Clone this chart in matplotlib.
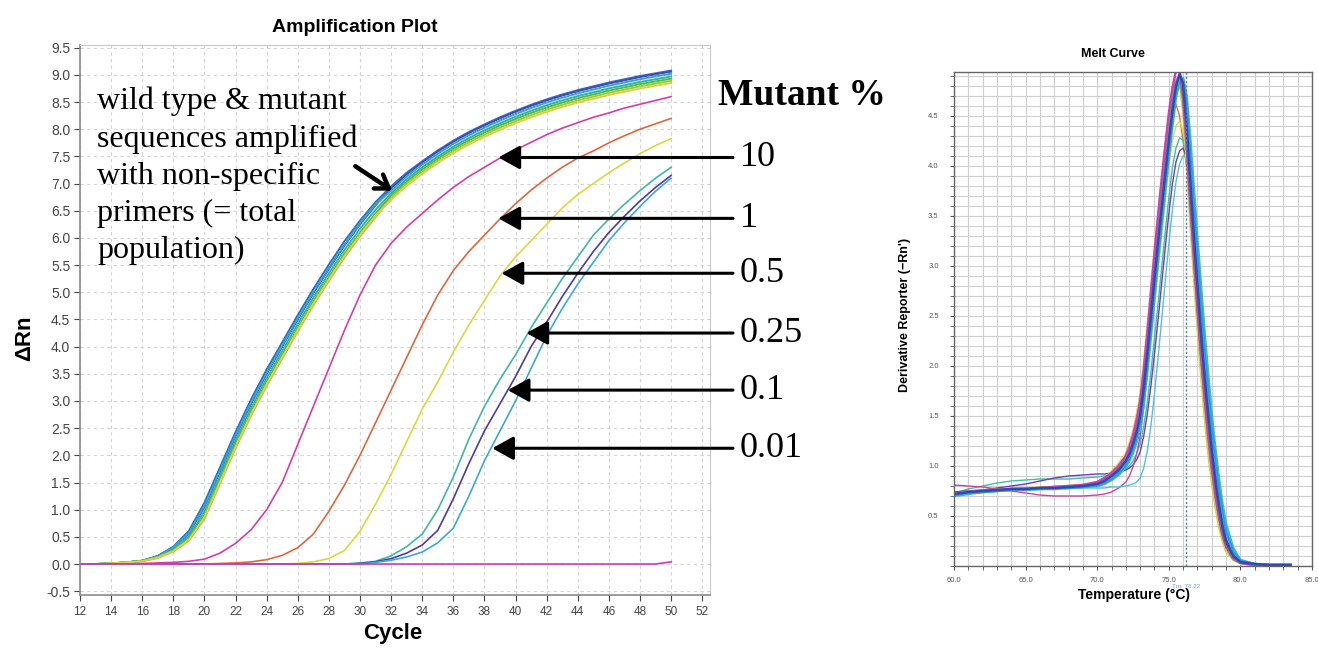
import matplotlib
matplotlib.use("Agg")
import matplotlib.pyplot as plt

# ---------------- amplification plot data ----------------
cycles = list(range(12, 51))

# total population (non-specific primers), several replicate wells
total_wells = {
    "#2f6fc0": [0.00, 0.00, 0.01, 0.03, 0.06, 0.15, 0.32, 0.61, 1.13, 1.78, 2.43, 3.03, 3.58, 4.08, 4.58, 5.06, 5.51, 5.94, 6.32, 6.66,
                6.95, 7.20, 7.41, 7.61, 7.79, 7.95, 8.09, 8.22, 8.34, 8.45, 8.55, 8.64, 8.72, 8.79, 8.86, 8.92, 8.98, 9.03, 9.08],
    "#4b48b0": [0.00, 0.00, 0.01, 0.03, 0.06, 0.14, 0.30, 0.56, 1.05, 1.70, 2.35, 2.95, 3.50, 4.00, 4.50, 4.98, 5.43, 5.86, 6.25, 6.60,
                6.91, 7.17, 7.39, 7.59, 7.77, 7.93, 8.07, 8.20, 8.32, 8.43, 8.53, 8.62, 8.70, 8.77, 8.84, 8.90, 8.96, 9.01, 9.06],
    "#35a3dc": [0.00, 0.00, 0.01, 0.03, 0.06, 0.14, 0.31, 0.57, 1.07, 1.72, 2.37, 2.97, 3.52, 4.02, 4.52, 5.00, 5.45, 5.88, 6.27, 6.62,
                6.87, 7.13, 7.35, 7.55, 7.73, 7.89, 8.03, 8.16, 8.28, 8.39, 8.49, 8.58, 8.66, 8.73, 8.80, 8.86, 8.92, 8.97, 9.02],
    "#2cb5a6": [0.00, 0.00, 0.01, 0.03, 0.06, 0.13, 0.28, 0.51, 0.97, 1.62, 2.27, 2.87, 3.42, 3.92, 4.42, 4.90, 5.35, 5.78, 6.17, 6.52,
                6.82, 7.08, 7.30, 7.50, 7.68, 7.84, 7.98, 8.11, 8.23, 8.34, 8.44, 8.53, 8.61, 8.68, 8.75, 8.81, 8.87, 8.92, 8.97],
    "#55b947": [0.00, 0.00, 0.01, 0.03, 0.06, 0.12, 0.25, 0.47, 0.90, 1.55, 2.20, 2.80, 3.35, 3.85, 4.35, 4.83, 5.28, 5.71, 6.10, 6.45,
                6.78, 7.04, 7.26, 7.46, 7.64, 7.80, 7.94, 8.07, 8.19, 8.30, 8.40, 8.49, 8.57, 8.64, 8.71, 8.77, 8.83, 8.88, 8.93],
    "#9bcb3c": [0.00, 0.00, 0.01, 0.03, 0.05, 0.11, 0.23, 0.43, 0.83, 1.48, 2.13, 2.73, 3.28, 3.78, 4.28, 4.76, 5.21, 5.64, 6.03, 6.38,
                6.74, 7.00, 7.22, 7.42, 7.60, 7.76, 7.90, 8.03, 8.15, 8.26, 8.36, 8.45, 8.53, 8.60, 8.67, 8.73, 8.79, 8.84, 8.89],
    "#d8d43a": [0.00, 0.00, 0.01, 0.03, 0.05, 0.12, 0.24, 0.45, 0.86, 1.51, 2.16, 2.76, 3.31, 3.81, 4.31, 4.79, 5.24, 5.67, 6.06, 6.41,
                6.70, 6.96, 7.18, 7.38, 7.56, 7.72, 7.86, 7.99, 8.11, 8.22, 8.32, 8.41, 8.49, 8.56, 8.63, 8.69, 8.75, 8.80, 8.85],
}

# mutant-specific wells
mut_10 = [0.00, 0.00, 0.00, 0.00, 0.01, 0.02, 0.03, 0.05, 0.09, 0.20, 0.38, 0.63, 1.00, 1.50, 2.20, 2.90, 3.60, 4.30, 4.95, 5.50,
          5.90, 6.20, 6.45, 6.70, 6.93, 7.13, 7.30, 7.47, 7.62, 7.76, 7.90, 8.02, 8.12, 8.22, 8.30, 8.39, 8.46, 8.53, 8.60]
mut_1 = [0.00, 0.00, 0.00, 0.00, 0.00, 0.00, 0.00, 0.00, 0.00, 0.01, 0.02, 0.04, 0.08, 0.16, 0.30, 0.55, 0.97, 1.45, 2.00, 2.60,
         3.20, 3.80, 4.40, 4.95, 5.40, 5.75, 6.05, 6.35, 6.63, 6.88, 7.10, 7.30, 7.47, 7.60, 7.75, 7.88, 8.00, 8.10, 8.20]
mut_05 = [0.00, 0.00, 0.00, 0.00, 0.00, 0.00, 0.00, 0.00, 0.00, 0.00, 0.00, 0.00, 0.00, 0.00, 0.01, 0.04, 0.10, 0.25, 0.60, 1.10,
          1.65, 2.25, 2.85, 3.35, 3.90, 4.40, 4.85, 5.30, 5.65, 5.95, 6.25, 6.55, 6.80, 7.00, 7.20, 7.38, 7.55, 7.70, 7.83]
mut_025 = [0.00, 0.00, 0.00, 0.00, 0.00, 0.00, 0.00, 0.00, 0.00, 0.00, 0.00, 0.00, 0.00, 0.00, 0.00, 0.00, 0.00, 0.00, 0.02, 0.05,
           0.15, 0.32, 0.55, 1.00, 1.60, 2.30, 2.90, 3.40, 3.85, 4.35, 4.80, 5.25, 5.65, 6.05, 6.35, 6.62, 6.87, 7.10, 7.30]
mut_01 = [0.00, 0.00, 0.00, 0.00, 0.00, 0.00, 0.00, 0.00, 0.00, 0.00, 0.00, 0.00, 0.00, 0.00, 0.00, 0.00, 0.00, 0.00, 0.01, 0.04,
          0.10, 0.20, 0.35, 0.62, 1.20, 1.85, 2.45, 2.95, 3.45, 4.00, 4.45, 4.92, 5.35, 5.75, 6.10, 6.40, 6.68, 6.93, 7.15]
mut_001 = [0.00, 0.00, 0.00, 0.00, 0.00, 0.00, 0.00, 0.00, 0.00, 0.00, 0.00, 0.00, 0.00, 0.00, 0.00, 0.00, 0.00, 0.00, 0.00, 0.03,
           0.07, 0.13, 0.22, 0.39, 0.66, 1.25, 1.90, 2.45, 3.00, 3.60, 4.20, 4.70, 5.15, 5.55, 5.95, 6.28, 6.58, 6.86, 7.10]
ntc = [0.00] * 38 + [0.04]

mutant_series = [mut_10, mut_1, mut_05, mut_025, mut_01, mut_001]
mutant_colors = ["#d63ca8", "#e0663a", "#d9d93a", "#3fb8a0", "#4b3aa8", "#3aa8dc"]
mutant_labels = ["10", "1", "0.5", "0.25", "0.1", "0.01"]
# where each arrow touches its curve (cycle, dRn)
arrow_tips = [(38.9, 7.48), (38.9, 6.36), (39.1, 5.35), (40.7, 4.25), (39.5, 3.20), (38.5, 2.13)]

# ---------------- melt curve data ----------------
melt_temp = [60, 61, 62, 63, 64, 65, 66, 67, 68, 69, 70, 70.5, 71, 71.5, 72, 72.25, 72.5, 72.75, 73, 73.25, 73.5, 73.75,
             74, 74.25, 74.5, 74.75, 75, 75.25, 75.5, 75.75, 76, 76.25, 76.5, 76.75, 77, 77.25, 77.5, 77.75, 78, 78.25,
             78.5, 78.75, 79, 79.5, 80, 81, 82, 83.5]

melt_thin = {
    "#e0703a": [.74, .75, .76, .77, .77, .78, .78, .79, .80, .81, .84, .87, .92, .98, 1.07, 1.15, 1.25, 1.38, 1.55, 1.82, 2.15, 2.52,
                2.90, 3.28, 3.66, 4.02, 4.32, 4.55, 4.62, 4.50, 4.25, 3.98, 3.58, 3.12, 2.66, 2.20, 1.78, 1.40, 1.06, .78,
                .55, .36, .22, .09, .04, .02, .01, .01],
    "#e3d84a": [.73, .75, .76, .77, .78, .78, .79, .79, .80, .81, .83, .86, .90, .95, 1.02, 1.08, 1.16, 1.26, 1.40, 1.62, 1.92, 2.25,
                2.60, 2.95, 3.30, 3.65, 3.98, 4.25, 4.40, 4.45, 4.35, 4.12, 3.78, 3.34, 2.86, 2.38, 1.94, 1.54, 1.18, .88,
                .63, .42, .26, .10, .04, .02, .01, .01],
    "#3fbf9f": [.73, .77, .80, .83, .85, .86, .87, .87, .87, .88, .89, .90, .91, .93, .97, 1.00, 1.05, 1.12, 1.22, 1.40, 1.64, 1.94,
                2.28, 2.62, 2.98, 3.34, 3.68, 3.98, 4.18, 4.28, 4.26, 4.05, 3.72, 3.30, 2.85, 2.40, 1.96, 1.56, 1.20, .90,
                .64, .43, .27, .11, .05, .02, .01, .01],
    "#6a3fb8": [.74, .75, .76, .78, .80, .82, .85, .88, .90, .91, .92, .92, .93, .94, .96, .98, 1.01, 1.06, 1.14, 1.30, 1.52, 1.80,
                2.12, 2.46, 2.82, 3.18, 3.52, 3.82, 4.04, 4.15, 4.18, 4.08, 3.80, 3.40, 2.94, 2.48, 2.04, 1.62, 1.25, .93,
                .66, .44, .28, .11, .05, .02, .01, .01],
    "#d0449a": [.81, .80, .79, .77, .75, .73, .71, .70, .70, .70, .71, .72, .74, .78, .84, .90, .99, 1.12, 1.30, 1.58, 1.95, 2.38,
                2.82, 3.25, 3.66, 4.05, 4.40, 4.68, 4.86, 4.90, 4.72, 4.28, 3.72, 3.18, 2.68, 2.20, 1.76, 1.38, 1.04, .76,
                .53, .35, .22, .09, .04, .02, .01, .01],
    "#4cc3e0": [.70, .73, .75, .76, .77, .78, .78, .78, .78, .78, .78, .78, .79, .79, .80, .81, .82, .84, .88, .98, 1.15, 1.40,
                1.72, 2.08, 2.46, 2.85, 3.22, 3.56, 3.84, 4.02, 4.10, 4.10, 3.90, 3.55, 3.12, 2.66, 2.20, 1.78, 1.40, 1.06,
                .78, .54, .36, .15, .06, .02, .01, .01],
}

melt_band = {
    "#cfd43a": [.72, .74, .75, .76, .77, .77, .78, .79, .80, .81, .84, .88, .94, 1.02, 1.12, 1.22, 1.34, 1.50, 1.70, 2.00, 2.38, 2.76,
                3.14, 3.50, 3.84, 4.16, 4.46, 4.70, 4.86, 4.84, 4.55, 4.05, 3.45, 2.90, 2.40, 1.92, 1.50, 1.14, .84, .60,
                .40, .25, .15, .06, .03, .01, .01, .01],
    "#57b947": [.72, .74, .75, .76, .77, .77, .78, .79, .79, .80, .83, .87, .92, .99, 1.09, 1.18, 1.29, 1.44, 1.62, 1.92, 2.28, 2.66,
                3.04, 3.40, 3.74, 4.07, 4.38, 4.64, 4.84, 4.88, 4.66, 4.20, 3.62, 3.08, 2.58, 2.10, 1.68, 1.30, .98, .71,
                .49, .31, .19, .07, .03, .01, .01, .01],
    "#3cb4e6": [.70, .72, .74, .75, .76, .76, .77, .77, .78, .79, .80, .82, .86, .91, .99, 1.05, 1.13, 1.24, 1.38, 1.62, 1.94, 2.30,
                2.68, 3.05, 3.40, 3.75, 4.08, 4.40, 4.68, 4.85, 4.88, 4.70, 4.28, 3.78, 3.28, 2.80, 2.34, 1.92, 1.52, 1.18,
                .88, .62, .42, .18, .06, .02, .01, .01],
    "#2a9fd6": [.71, .73, .74, .75, .76, .77, .77, .78, .78, .79, .81, .83, .87, .93, 1.01, 1.08, 1.17, 1.28, 1.43, 1.68, 2.00, 2.38,
                2.76, 3.12, 3.47, 3.82, 4.15, 4.47, 4.74, 4.88, 4.86, 4.60, 4.10, 3.58, 3.08, 2.60, 2.14, 1.74, 1.36, 1.04,
                .76, .52, .34, .14, .05, .02, .01, .01],
    "#d040b0": [.72, .74, .75, .76, .77, .77, .78, .79, .80, .81, .84, .88, .93, 1.00, 1.10, 1.19, 1.30, 1.45, 1.64, 1.95, 2.32, 2.72,
                3.12, 3.50, 3.86, 4.20, 4.52, 4.78, 4.95, 4.96, 4.70, 4.22, 3.64, 3.10, 2.60, 2.12, 1.70, 1.32, .99, .72,
                .50, .32, .20, .08, .03, .01, .01, .01],
    "#2d4bb3": [.72, .74, .75, .76, .77, .77, .78, .78, .79, .80, .82, .85, .90, .96, 1.05, 1.12, 1.22, 1.34, 1.50, 1.78, 2.12, 2.50,
                2.88, 3.24, 3.58, 3.92, 4.25, 4.55, 4.80, 4.92, 4.82, 4.40, 3.85, 3.30, 2.80, 2.32, 1.88, 1.50, 1.15, .85,
                .60, .39, .24, .10, .04, .02, .01, .01],
}
tm_value = 76.22

sans = ["Liberation Sans", "DejaVu Sans"]
serif = ["Liberation Serif", "DejaVu Serif"]

fig = plt.figure(figsize=(13.18, 6.49), dpi=100)

# ================= Amplification plot =================
ax = fig.add_axes([80 / 1318, 1 - 595 / 649, 630 / 1318, 550 / 649])
for color, vals in total_wells.items():
    ax.plot(cycles, vals, color=color, lw=1.4)
for vals, color in zip(mutant_series, mutant_colors):
    ax.plot(cycles, vals, color=color, lw=1.2)
ax.plot(cycles, ntc, color="#c83cb4", lw=1.2)

ax.set_xlim(12, 52.5)
ax.set_ylim(-0.57, 9.55)
ax.set_xticks(range(12, 53, 2))
yt = [i * 0.5 - 0.5 for i in range(21)]
ax.set_yticks(yt)
ax.set_yticklabels([f"{v:.1f}" for v in yt], family=sans)
ax.tick_params(axis="y", labelsize=10, colors="#444444", length=4, pad=3)
ax.tick_params(axis="x", labelsize=8.5, colors="#444444", length=4, pad=4)
for lab in ax.get_xticklabels():
    lab.set_family(sans)
ax.grid(True, color="#d4d4d4", ls=(0, (3, 3)), lw=0.8)
ax.set_axisbelow(True)
for side in ["top", "right"]:
    ax.spines[side].set_color("#c8c8c8")
for side in ["left", "bottom"]:
    ax.spines[side].set_color("#8a8a8a")
    ax.spines[side].set_linewidth(1.2)

fig.text(355 / 1318, 1 - 27 / 649, "Amplification Plot", ha="center", va="center",
         family=sans, fontweight="bold", fontsize=14)
fig.text(25 / 1318, 1 - 338 / 649, "ΔRn", rotation=90, ha="center", va="center",
         family=sans, fontweight="bold", fontsize=16)
fig.text(393 / 1318, 1 - 634 / 649, "Cycle", ha="center", va="center",
         family=sans, fontweight="bold", fontsize=16)

# annotation for total population
fig.text(97 / 1318, 1 - 176 / 649,
         "wild type & mutant\nsequences amplified\nwith non-specific\nprimers (= total\npopulation)",
         ha="left", va="center", family=serif, fontsize=23, linespacing=1.36)
ax.annotate("", xy=(32.07, 6.87), xytext=(29.7, 7.32),
            arrowprops=dict(arrowstyle="->,head_length=0.45,head_width=0.3", lw=3.2, color="black",
                            shrinkA=0, shrinkB=0, mutation_scale=20))

# mutant % arrows and labels
ax.text(1.013, 8.62, "Mutant %", transform=ax.get_yaxis_transform(), ha="left", va="center",
        family=serif, fontweight="bold", fontsize=27, clip_on=False)
for (cx, cy), label in zip(arrow_tips, mutant_labels):
    ax.annotate("", xy=(cx, cy), xytext=(1.0365, cy), textcoords=("axes fraction", "data"),
                annotation_clip=False,
                arrowprops=dict(arrowstyle="-|>,head_length=0.65,head_width=0.36", lw=2.2, color="black",
                                shrinkA=0, shrinkB=0, mutation_scale=20))
    ax.text(1.0476, cy, label, transform=ax.get_yaxis_transform(), ha="left", va="center",
            family=serif, fontsize=26, clip_on=False)

# ================= Melt curve =================
mx = fig.add_axes([954 / 1318, 1 - 566 / 649, 358 / 1318, 494 / 649])
for color, vals in melt_thin.items():
    mx.plot(melt_temp, vals, color=color, lw=1.0)
for color, vals in melt_band.items():
    mx.plot(melt_temp, vals, color=color, lw=1.8)
mx.axvline(tm_value, color="#4a7fd0", ls=(0, (1.5, 1.5)), lw=1.0)

mx.set_xlim(60, 85)
mx.set_ylim(0, 4.94)
mx.set_xticks([60, 65, 70, 75, 80, 85])
mx.set_xticklabels(["60.0", "65.0", "70.0", "75.0", "80.0", "85.0"], family=sans)
mx.set_xticks(range(60, 86), minor=True)
my = [0.5, 1.0, 1.5, 2.0, 2.5, 3.0, 3.5, 4.0, 4.5]
mx.set_yticks(my)
mx.set_yticklabels([f"{v:.1f}" for v in my], family=sans)
mx.set_yticks([i / 10 for i in range(50)], minor=True)
mx.tick_params(which="both", labelsize=5.5, colors="#555555", length=3, pad=8)
mx.tick_params(axis="x", which="both", pad=5)
mx.grid(True, which="both", color="#cfcfcf", lw=0.8)
mx.set_axisbelow(True)
for side in mx.spines:
    mx.spines[side].set_color("#666666")
    mx.spines[side].set_linewidth(1.0)

fig.text(1113 / 1318, 1 - 54 / 649, "Melt Curve", ha="center", va="center",
         family=sans, fontweight="bold", fontsize=9)
fig.text(905 / 1318, 1 - 315 / 649, "Derivative Reporter (−Rn')", rotation=90, ha="center", va="center",
         family=sans, fontweight="bold", fontsize=9)
fig.text(1134 / 1318, 1 - 595 / 649, "Temperature (°C)", ha="center", va="center",
         family=sans, fontweight="bold", fontsize=10)
mx.text(tm_value, -0.2, f"Tm: {tm_value:.2f}", ha="center", va="center", family=sans,
        fontsize=4.5, color="#6a9fd8", clip_on=False)

fig.savefig("out.png", dpi=100)
